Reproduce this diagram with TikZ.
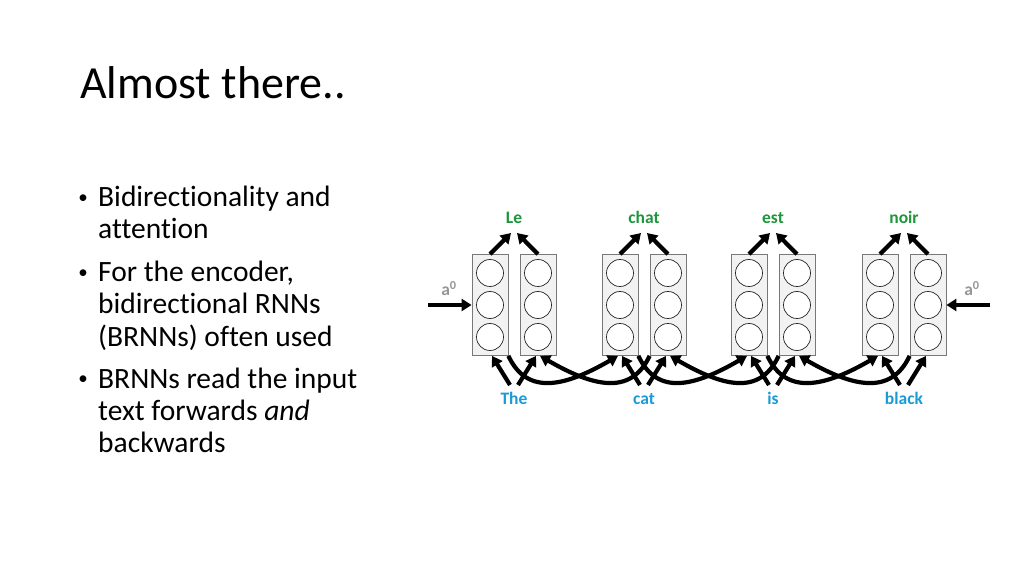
\documentclass[tikz,border=0pt]{standalone}
\usepackage{fontspec}
\setmainfont[Ligatures=NoCommon]{Carlito}
\usetikzlibrary{arrows.meta, calc}

\definecolor{wordgreen}{RGB}{30,150,60}
\definecolor{wordblue}{RGB}{25,155,215}
\definecolor{cellgray}{RGB}{242,242,242}
\definecolor{edgegray}{RGB}{120,120,120}
\definecolor{initgray}{RGB}{150,150,150}

\tikzset{
    cell/.style={draw=edgegray, fill=cellgray, line width=0.8pt, minimum width=36pt, minimum height=101pt, inner sep=0pt},
    unit/.style={circle, draw=black!85, fill=white, line width=0.7pt, minimum size=27pt, inner sep=0pt},
    word/.style={font=\bfseries\fontsize{17.5}{20}\selectfont, inner sep=0pt, anchor=base},
    bullet/.style={font=\fontsize{29.5}{32.3}\selectfont, inner sep=0pt, anchor=base west, align=left},
    dotmark/.style={font=\fontsize{19}{20}\selectfont, inner sep=0pt, anchor=center},
    arr/.style={line width=4.2pt, -{Triangle[length=10pt, width=12pt]}},
}

\begin{document}
\begin{tikzpicture}[x=1pt, y=1pt]
    \useasboundingbox[fill=white] (0,0) rectangle (1024,576);

    % title and bullet points (base = last line)
    \node[anchor=base west, inner sep=0pt, font=\fontsize{46}{50}\selectfont] (title) at (80,477) {Almost there..};
    \node[dotmark] (dot1) at (83,377) {\textbullet};
    \node[bullet] (item1) at (98,337) {Bidirectionality and\\attention};
    \node[dotmark] (dot2) at (83,302) {\textbullet};
    \node[bullet] (item2) at (98,230) {For the encoder,\\bidirectional RNNs\\(BRNNs) often used};
    \node[dotmark] (dot3) at (83,195.4) {\textbullet};
    \node[bullet] (item3) at (98,123.3) {BRNNs read the input\\text forwards \textit{and}\\backwards};

    % forward / backward cells, one pair per word
    \foreach \px/\n/\src/\tgt in {514/1/The/Le, 644/2/cat/chat, 773/3/is/est, 904/4/black/noir} {
        \node[cell] (f\n) at (\px-24,271) {};
        \node[cell] (b\n) at (\px+24,271) {};
        \foreach \cl in {f,b}
            \foreach \k/\dy in {1/32, 2/0, 3/-32}
                \node[unit] (\cl\n u\k) at ($(\cl\n)+(0,\dy)$) {};
        \node[word, text=wordgreen] (o\n) at (\px,352.5) {\tgt};
        \node[word, text=wordblue] (i\n) at (\px,172) {\src};
        \draw[arr] (f\n.north) -- ([xshift=-3pt, yshift=-9.5pt]o\n.base);
        \draw[arr] (b\n.north) -- ([xshift=3pt, yshift=-9.5pt]o\n.base);
        \draw[arr] ([xshift=-4pt, yshift=19pt]i\n.base) -- ([xshift=2pt]f\n.south);
        \draw[arr] ([xshift=4pt, yshift=19pt]i\n.base) -- ([xshift=-2pt]b\n.south);
    }

    % recurrent links between neighbouring pairs
    \foreach \n in {1,2,3} {
        \pgfmathtruncatemacro{\m}{\n+1}
        \draw[arr] (f\n.south east) .. controls +(-65:45) and +(-150:60) .. ([xshift=-2pt]f\m.south);
        \draw[arr] (b\m.south west) .. controls +(-115:45) and +(-30:60) .. ([xshift=2pt]b\n.south);
    }

    % initial states
    \node[word, text=initgray] (a0l) at (449,280) {a\textsuperscript{0}};
    \node[word, text=initgray] (a0r) at (972,280) {a\textsuperscript{0}};
    \coordinate (inl) at (428,271);
    \coordinate (inr) at (990,271);
    \draw[arr] (inl) -- (f1.west);
    \draw[arr] (inr) -- (b4.east);
\end{tikzpicture}
\end{document}
